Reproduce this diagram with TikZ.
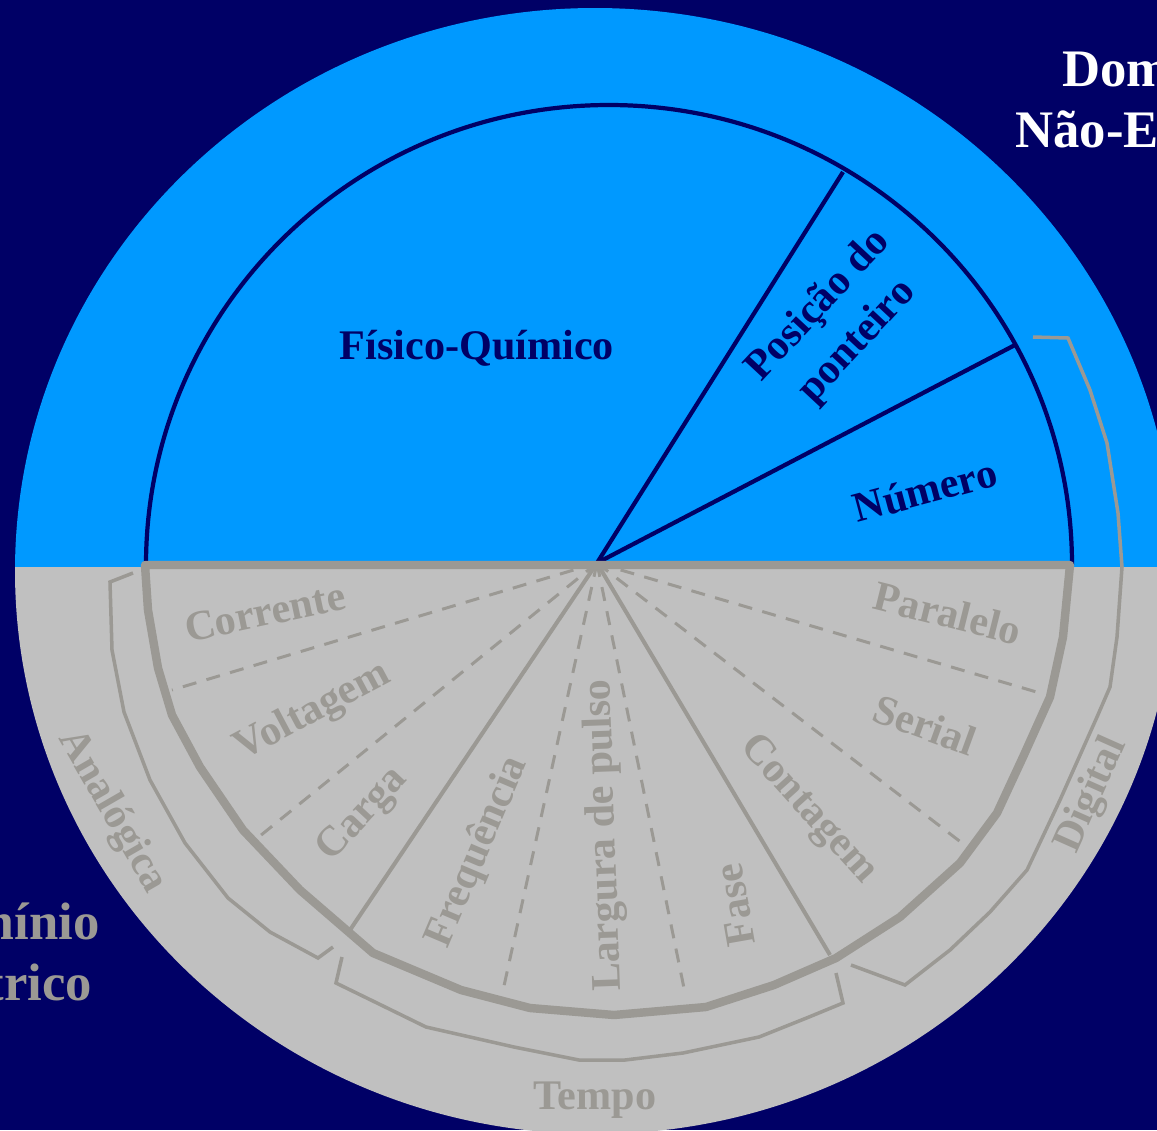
\documentclass[tikz,border=0pt]{standalone}
\usepackage{fontspec}
\setmainfont{Liberation Serif}
\usetikzlibrary{positioning}
\definecolor{navy}{HTML}{000066}
\definecolor{sky}{HTML}{0099FF}
\definecolor{silver}{HTML}{C0C0C0}
\definecolor{stone}{RGB}{155,153,148}

\begin{document}
\begin{tikzpicture}[x=0.02cm, y=-0.02cm,
  title/.style={font=\fontsize{30}{35}\selectfont\bfseries, align=center,
                inner sep=0pt},
  darktag/.style={font=\fontsize{24}{30}\selectfont\bfseries, text=navy,
                  align=center, inner sep=0pt},
  greytag/.style={font=\fontsize{24}{27}\selectfont\bfseries, text=stone,
                  inner sep=0pt},
  spoke/.style={draw=navy, line width=2.4pt},
  divider/.style={draw=stone, line width=2.3pt},
  subdiv/.style={draw=stone, line width=1.7pt, dash pattern=on 8pt off 6pt},
  rim/.style={draw=stone, line width=4.8pt, line join=round},
  bracket/.style={draw=stone, line width=2pt},
]
  \useasboundingbox (0,0) rectangle (1157,1130);
  \clip (0,0) rectangle (1157,1130);
  \fill[navy] (0,0) rectangle (1157,1130);

  % Outer disc: non-electrical half on top, electrical half below
  \begin{scope}
    \clip (0,0) rectangle (1157,567);
    \fill[sky] (595,571) ellipse [x radius=580, y radius=563];
  \end{scope}
  \begin{scope}
    \clip (0,567) rectangle (1157,1130);
    \fill[silver] (595,571) ellipse [x radius=580, y radius=563];
  \end{scope}

  \coordinate (hub) at (597,563);

  % Upper half: semicircle and its two spokes
  \draw[spoke] (146,565) arc [start angle=180, end angle=360,
                              x radius=463, y radius=460];
  \draw[spoke] (hub) -- (843,172);
  \draw[spoke] (hub) -- (1015,345);

  % Lower half: solid dividers between groups, dashed inside each group
  \draw[divider] (hub) -- (350,930);
  \draw[divider] (hub) -- (830,955);
  \foreach \p in {(172,690),(255,840),(502,995),(685,993),(1040,693),(962,843)}
    \draw[subdiv] (hub) -- \p;

  % Lower outline
  \draw[rim] (145,565) -- (148,610) -- (158,668) -- (172,715) -- (200,767)
    -- (243,830) -- (300,890) -- (373,953) -- (461,990) -- (530,1008)
    -- (614,1015) -- (706,1007) -- (774,985) -- (836,958) -- (900,917)
    -- (960,863) -- (997,813) -- (1023,757) -- (1050,697) -- (1063,637)
    -- (1070,565) -- cycle;

  % Brackets for the three groups
  \draw[bracket] (133,573) -- (110,582) -- (112,650) -- (124,712)
    -- (150,780) -- (185,843) -- (228,898) -- (270,932) -- (318,958)
    -- (333,947);
  \draw[bracket] (342,957) -- (336,983) -- (377,1003) -- (426,1027)
    -- (514,1047) -- (579,1060) -- (625,1060) -- (683,1053) -- (759,1037)
    -- (809,1017) -- (843,1003) -- (836,973);
  \draw[bracket] (1033,337) -- (1068,338) -- (1090,390) -- (1107,443)
    -- (1118,513) -- (1122,567) -- (1117,637) -- (1110,687) -- (1097,717)
    -- (1060,800) -- (1027,870) -- (990,912) -- (950,950) -- (905,985)
    -- (851,965);

  % Upper labels
  \node[darktag] (fisquim) at (477,348) {Físico-Químico};
  \node[darktag, rotate=47] (ponteiro) at (838,324) {Posição do\\ponteiro};
  \node[darktag, rotate=15] (numero) at (925,490) {Número};

  % Lower labels
  \node[greytag, rotate=12] (corrente) at (265,612) {Corrente};
  \node[greytag, rotate=28] (voltagem) at (313,712) {Voltagem};
  \node[greytag, rotate=47] (carga) at (363,815) {Carga};
  \node[greytag, rotate=67] (frequencia) at (478,852) {Frequência};
  \node[greytag, rotate=92] (largura) at (605,835) {Largura de pulso};
  \node[greytag, rotate=100] (fase) at (735,905) {Fase};
  \node[greytag, rotate=-48] (contagem) at (808,810) {Contagem};
  \node[greytag, rotate=-20] (serial) at (925,725) {Serial};
  \node[greytag, rotate=-14] (paralelo) at (948,613) {Paralelo};

  % Group names
  \node[greytag, rotate=-60] (analogica) at (112,812) {Analógica};
  \node[greytag] (tempo) at (595,1100) {Tempo};
  \node[greytag, rotate=66] (digital) at (1092,795) {Digital};

  % Domain titles
  \node[title, text=white] (naoeletrico) at (1159,99) {Domínio\\Não-Elétrico};
  \node[title, text=stone] (eletrico) at (3,952) {Domínio\\Elétrico};
\end{tikzpicture}
\end{document}
